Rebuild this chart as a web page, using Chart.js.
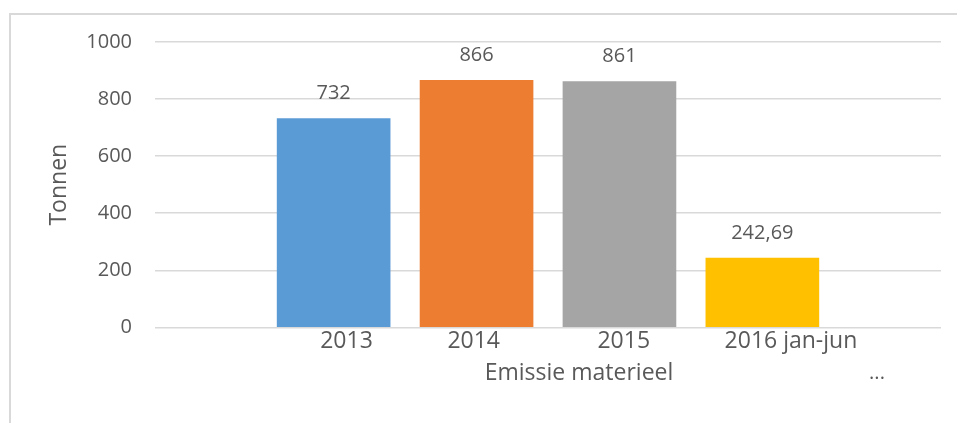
<!DOCTYPE html>
<html>
<head>
<meta charset="utf-8">
<script src="https://cdn.jsdelivr.net/npm/chart.js@4/dist/chart.umd.min.js"></script>
<style>
  body { margin: 0; background: #fff; }
  .frame { position: absolute; left: 9px; top: 13px; width: 1000px; height: 500px; border: 2px solid #d9d9d9; }
  .wrap { position: absolute; left: 0; top: 0; width: 957px; height: 423px; }
</style>
</head>
<body>
<div class="frame"></div>
<div class="wrap"><canvas id="chart" width="957" height="423"></canvas></div>
<script>
const years = ['2013', '2014', '2015', '2016 jan-jun'];
const tonnes = [732, 866, 861, 242.69];
const barColors = ['#5b9bd5', '#ed7d31', '#a5a5a5', '#ffc000'];
const yTicks = [0, 200, 400, 600, 800, 1000];
const groupLabel = 'Emissie materieel';

const textColor = '#595959';
const font = 'Open Sans';

// excel puts the year labels a bit off the bar centres
const labelShift = [0.09, -0.02, 0.03, 0.2];

const extraText = {
  id: 'extraText',
  afterDraw(chart) {
    const ctx = chart.ctx;
    const area = chart.chartArea;
    ctx.save();
    ctx.fillStyle = textColor;
    ctx.textAlign = 'center';
    ctx.textBaseline = 'middle';

    // value labels above the bars
    ctx.font = '20px "' + font + '"';
    chart.getDatasetMeta(0).data.forEach((bar, i) => {
      ctx.fillText(String(tonnes[i]).replace('.', ','), bar.x, bar.y - 25);
    });

    // second level of the category axis
    ctx.font = '23px "' + font + '"';
    ctx.fillText(groupLabel, area.left + 424, area.bottom + 46);
    ctx.font = '20px "' + font + '"';
    ctx.fillText('...', area.left + 722, area.bottom + 46);
    ctx.restore();
  }
};

new Chart(document.getElementById('chart'), {
  type: 'bar',
  data: {
    datasets: [{
      data: tonnes.map((v, i) => ({ x: i, y: v })),
      backgroundColor: barColors,
      barThickness: 113
    }]
  },
  options: {
    responsive: false,
    animation: false,
    layout: { padding: { left: 0, right: 16, top: 42, bottom: 68 } },
    plugins: {
      legend: { display: false },
      tooltip: { enabled: false }
    },
    scales: {
      x: {
        type: 'linear',
        min: -1.25,
        max: 4.25,
        offset: false,
        grid: { display: false, tickLength: 0 },
        border: { display: false },
        afterBuildTicks: axis => {
          axis.ticks = years.map((y, i) => ({ value: i + labelShift[i] }));
        },
        ticks: {
          autoSkip: false,
          maxRotation: 0,
          padding: 0,
          color: textColor,
          font: { family: font, size: 23 },
          callback: (value, index) => years[index]
        }
      },
      y: {
        min: 0,
        max: 1000,
        afterBuildTicks: axis => {
          axis.ticks = yTicks.map(v => ({ value: v }));
        },
        afterFit: axis => { axis.width = 155; },
        grid: { color: '#d9d9d9', lineWidth: 1.5, drawTicks: false },
        border: { display: false },
        ticks: {
          padding: 23,
          color: textColor,
          font: { family: font, size: 20 },
          callback: v => String(v)
        },
        title: {
          display: true,
          text: 'Tonnen',
          color: textColor,
          font: { family: font, size: 23 },
          padding: { top: 46, bottom: 0 }
        }
      }
    }
  },
  plugins: [extraText]
});
</script>
</body>
</html>
